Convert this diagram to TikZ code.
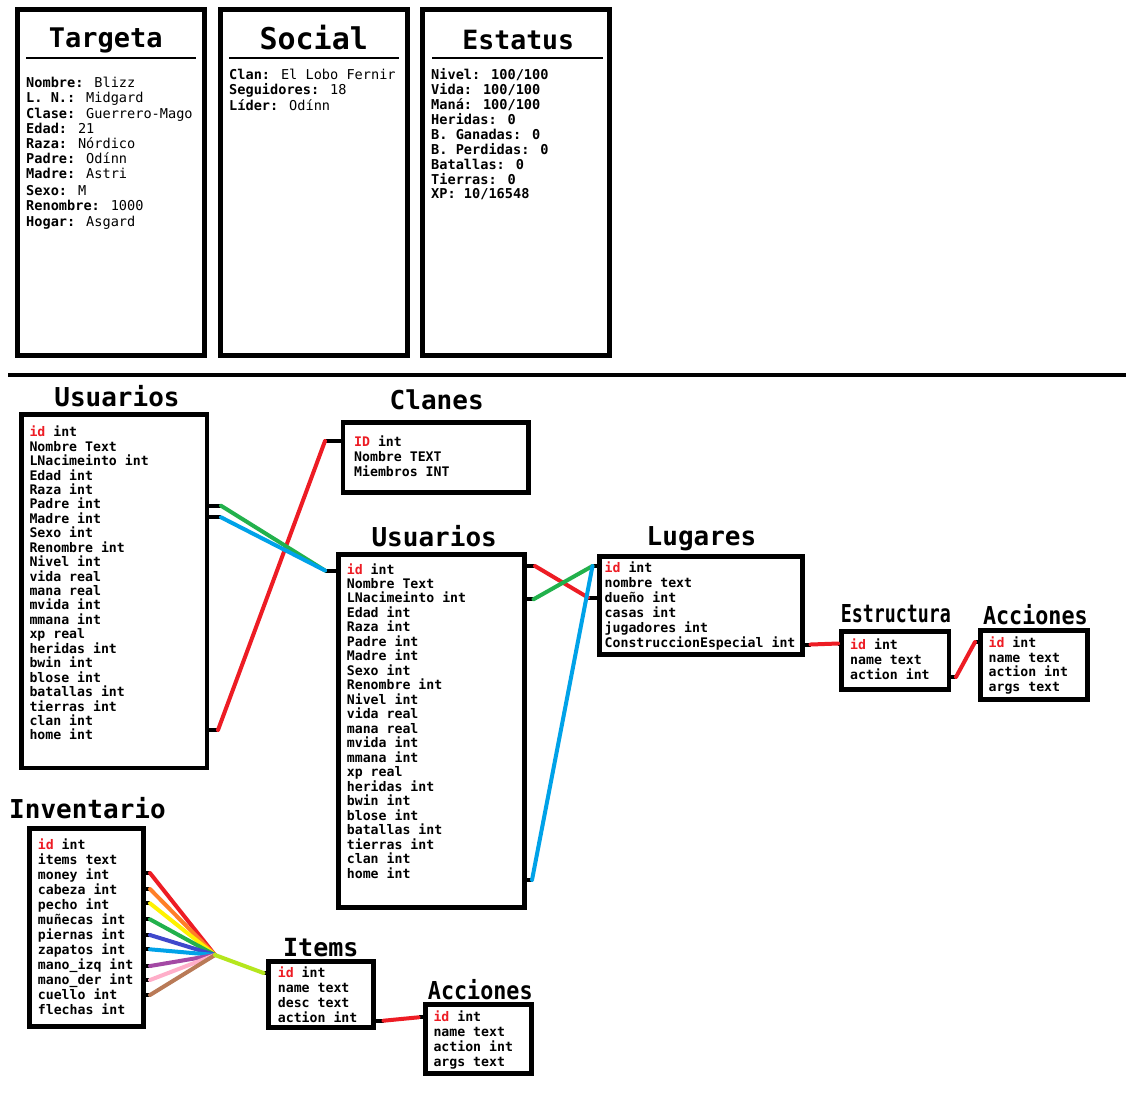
\documentclass[tikz,border=0pt]{standalone}
\usepackage{fontspec}
\newfontfamily\dvm{DejaVu Sans Mono}
\usetikzlibrary{calc}

\definecolor{pred}{HTML}{ED1C24}
\definecolor{porange}{HTML}{FF7F27}
\definecolor{pyellow}{HTML}{FFF200}
\definecolor{pgreen}{HTML}{22B14C}
\definecolor{pindigo}{HTML}{3F48CC}
\definecolor{pcyan}{HTML}{00A2E8}
\definecolor{ppurple}{HTML}{A349A4}
\definecolor{ppink}{HTML}{FFAEC9}
\definecolor{pbrown}{HTML}{B97A57}
\definecolor{plime}{HTML}{B5E61D}

\newcommand\fldfont{\dvm\bfseries\fontsize{13.2}{15}\selectfont}
\newcommand\cardfont{\dvm\fontsize{13.6}{15}\selectfont}
\newcommand\ttlfont{\dvm\bfseries\fontsize{26}{30}\selectfont}
\newcommand\key[1]{\textcolor{pred}{#1}}
\newcommand\lbl[1]{\textbf{#1}}

% a table box given by its name and the corners of its border line
\newcommand\tablebox[5]{%
  \node[box, minimum width={#4-#2}, minimum height={#5-#3}] (#1) at (#2,#3) {};}

\begin{document}
\begin{tikzpicture}[x=1pt,y=-1pt,
  box/.style={draw=black, line width=4.8pt, fill=white, inner sep=0pt, outer sep=0pt, anchor=north west},
  fld/.style={anchor=base west, inner sep=0pt, font=\fldfont},
  cardtxt/.style={anchor=base west, inner sep=0pt, font=\cardfont},
  ttl/.style={anchor=base, inner sep=0pt, font=\ttlfont},
  wire/.style={line width=4pt, line cap=round},
  stub/.style={line width=4pt, draw=black},
  rule/.style={line width=2pt, draw=black}]

\useasboundingbox (0,0) rectangle (1126,1104);
\fill[white] (0,0) rectangle (1126,1104);

% ---------- character sheet cards ----------
\node[box, line width=5pt, minimum width=187, minimum height=346] (cardT) at (17.5,9.5) {};
\node[box, line width=5pt, minimum width=187, minimum height=346] (cardS) at (220.5,9.5) {};
\node[box, line width=5pt, minimum width=187, minimum height=346] (cardE) at (422.5,9.5) {};

\node[ttl, font=\dvm\bfseries\fontsize{27}{30}\selectfont] (tT) at (105.8,47.7) {Targeta};
\node[ttl, font=\dvm\bfseries\fontsize{30}{32}\selectfont] (tS) at (313.7,49.8) {Social};
\node[ttl, font=\dvm\bfseries\fontsize{26.5}{30}\selectfont] (tE) at (518.3,49.8) {Estatus};
\coordinate (uTa) at (26,58.2);  \coordinate (uTb) at (196,58.2);
\coordinate (uSa) at (229,58.2); \coordinate (uSb) at (399,58.2);
\coordinate (uEa) at (432,58.2); \coordinate (uEb) at (603,58.2);
\draw[rule] (uTa) -- (uTb);
\draw[rule] (uSa) -- (uSb);
\draw[rule] (uEa) -- (uEb);

\node[cardtxt] (cT1) at (26,87.3) {\lbl{Nombre:} Blizz};
\node[cardtxt] (cT2) at (26,102.9) {\lbl{L. N.:} Midgard};
\node[cardtxt] (cT3) at (26,118) {\lbl{Clase:} Guerrero-Mago};
\node[cardtxt] (cT4) at (26,133.3) {\lbl{Edad:} 21};
\node[cardtxt] (cT5) at (26,148.3) {\lbl{Raza:} Nórdico};
\node[cardtxt] (cT6) at (26,163.3) {\lbl{Padre:} Odínn};
\node[cardtxt] (cT7) at (26,178.3) {\lbl{Madre:} Astri};
\node[cardtxt] (cT8) at (26,195.7) {\lbl{Sexo:} M};
\node[cardtxt] (cT9) at (26,210) {\lbl{Renombre:} 1000};
\node[cardtxt] (cT10) at (26,226.7) {\lbl{Hogar:} Asgard};

\node[cardtxt] (cS1) at (229,79) {\lbl{Clan:} El Lobo Fernir};
\node[cardtxt] (cS2) at (229,94.3) {\lbl{Seguidores:} 18};
\node[cardtxt] (cS3) at (229,110) {\lbl{Líder:} Odínn};

\node[cardtxt] (cE1) at (431,79) {\lbl{Nivel: 100/100}};
\node[cardtxt] (cE2) at (431,94.3) {\lbl{Vida: 100/100}};
\node[cardtxt] (cE3) at (431,109.3) {\lbl{Maná: 100/100}};
\node[cardtxt] (cE4) at (431,124) {\lbl{Heridas: 0}};
\node[cardtxt] (cE5) at (431,139.3) {\lbl{B. Ganadas: 0}};
\node[cardtxt] (cE6) at (431,154) {\lbl{B. Perdidas: 0}};
\node[cardtxt] (cE7) at (431,169) {\lbl{Batallas: 0}};
\node[cardtxt] (cE8) at (431,184.3) {\lbl{Tierras: 0}};
\node[cardtxt] (cE9) at (431,198.3) {\lbl{XP: 10/16548}};

% ---------- separator ----------
\coordinate (sepL) at (8,375);
\coordinate (sepR) at (1126,375);
\draw[line width=4pt] (sepL) -- (sepR);

% ---------- database tables ----------
\tablebox{usrA}{21.5}{414.5}{207}{768}
\tablebox{clan}{343}{422.7}{528.5}{492.7}
\tablebox{usrB}{338.3}{554.3}{524.5}{907.2}
\tablebox{lug}{599.7}{556.8}{802.5}{654.2}
\tablebox{est}{841.6}{631.8}{949}{689.2}
\tablebox{accR}{980.5}{630.2}{1087.5}{699.2}
\tablebox{inv}{29.2}{828.5}{143.2}{1026.7}
\tablebox{items}{268.5}{961.8}{373.5}{1027.5}
\tablebox{accB}{425.8}{1004.2}{531.8}{1073.2}

% titles
\node[ttl] (tUA) at (117,406.7) {Usuarios};
\node[ttl] (tCl) at (436.7,409.8) {Clanes};
\node[ttl] (tUB) at (434.2,546.7) {Usuarios};
\node[ttl] (tLu) at (701.5,545) {Lugares};
\node[ttl] (tEs) at (895.8,622.7) {\scalebox{0.74}[1]{\fontsize{24.7}{28}\selectfont Estructura}};
\node[ttl] (tAR) at (1035.4,624.3) {\scalebox{0.88}[1]{\fontsize{24.7}{28}\selectfont Acciones}};
\node[ttl] (tIn) at (87.5,818.7) {Inventario};
\node[ttl] (tIt) at (320.8,956.7) {\fontsize{25}{28}\selectfont Items};
\node[ttl] (tAB) at (480.3,999.3) {\scalebox{0.88}[1]{\fontsize{24.7}{28}\selectfont Acciones}};

% fields
\foreach \t [count=\i from 0] in {\key{id} int,Nombre Text,LNacimeinto int,Edad int,Raza int,Padre int,Madre int,Sexo int,Renombre int,Nivel int,vida real,mana real,mvida int,mmana int,xp real,heridas int,bwin int,blose int,batallas int,tierras int,clan int,home int}
  \node[fld] (fA\i) at (29.3,{436.7+14.44*\i}) {\t};
\foreach \t [count=\i from 0] in {\key{ID} int,Nombre TEXT,Miembros INT}
  \node[fld] (fC\i) at (354,{446+15.25*\i}) {\t};
\foreach \t [count=\i from 0] in {\key{id} int,Nombre Text,LNacimeinto int,Edad int,Raza int,Padre int,Madre int,Sexo int,Renombre int,Nivel int,vida real,mana real,mvida int,mmana int,xp real,heridas int,bwin int,blose int,batallas int,tierras int,clan int,home int}
  \node[fld] (fB\i) at (346.7,{574+14.48*\i}) {\t};
\foreach \t [count=\i from 0] in {\key{id} int,nombre text,dueño int,casas int,jugadores int,ConstruccionEspecial int}
  \node[fld] (fL\i) at (604.5,{572.3+15*\i}) {\t};
\foreach \t [count=\i from 0] in {\key{id} int,name text,action int}
  \node[fld] (fE\i) at (850,{649.3+15*\i}) {\t};
\foreach \t [count=\i from 0] in {\key{id} int,name text,action int,args text}
  \node[fld] (fR\i) at (988.4,{647.3+14.8*\i}) {\t};
\foreach \t [count=\i from 0] in {\key{id} int,items text,money int,cabeza int,pecho int,muñecas int,piernas int,zapatos int,mano\_izq int,mano\_der int,cuello int,flechas int}
  \node[fld] (fI\i) at (37.7,{849+15*\i}) {\t};
\foreach \t [count=\i from 0] in {\key{id} int,name text,desc text,action int}
  \node[fld] (fT\i) at (277.7,{977.3+15*\i}) {\t};
\foreach \t [count=\i from 0] in {\key{id} int,name text,action int,args text}
  \node[fld] (fX\i) at (433.3,{1021.3+14.9*\i}) {\t};

% ---------- relations ----------
% Usuarios (left) -> Usuarios (middle), Clanes
\coordinate (aPad) at (207,505.7);  \coordinate (aPadE) at (221,505.7);
\coordinate (aMad) at (207,517.3);  \coordinate (aMadE) at (221,517.3);
\coordinate (aCla) at (207,730);    \coordinate (aClaE) at (218,730);
\coordinate (bId)  at (338.3,570.5); \coordinate (bIdE) at (325,570.5);
\coordinate (cId)  at (343,441);    \coordinate (cIdE) at (325,441);
\draw[stub] (aPad) -- (aPadE);
\draw[stub] (aMad) -- (aMadE);
\draw[stub] (aCla) -- (aClaE);
\draw[stub] (bId) -- (bIdE);
\draw[stub] (cId) -- (cIdE);
\draw[wire, pred] (aClaE) -- (cIdE);
\draw[wire, pgreen] (aPadE) -- (bIdE);
\draw[wire, pcyan] (aMadE) -- (bIdE);

% Usuarios (middle) -> Lugares
\coordinate (bIdR) at (524.5,566);   \coordinate (bIdRE) at (535,566);
\coordinate (bLNa) at (524.5,599.3); \coordinate (bLNaE) at (533.5,599.3);
\coordinate (bHom) at (524.5,880);   \coordinate (bHomE) at (532,880);
\coordinate (lId)  at (599.7,566);   \coordinate (lIdE) at (592.5,566);
\coordinate (lDue) at (599.7,597.5); \coordinate (lDueE) at (588,597.5);
\draw[stub] (bIdR) -- (bIdRE);
\draw[stub] (bLNa) -- (bLNaE);
\draw[stub] (bHom) -- (bHomE);
\draw[stub] (lId) -- (lIdE);
\draw[stub] (lDue) -- (lDueE);
\draw[wire, pred] (bIdRE) -- (lDueE);
\draw[wire, pgreen] (bLNaE) -- (lIdE);
\draw[wire, pcyan] (bHomE) -- (lIdE);

% Lugares -> Estructura -> Acciones
\coordinate (lCon) at (802.5,644.5); \coordinate (lConE) at (810.5,644.5);
\coordinate (eId)  at (841.6,643.5); \coordinate (eIdE) at (838,643.5);
\coordinate (eAct) at (949,677);     \coordinate (eActE) at (956,677);
\coordinate (rId)  at (980.5,642);   \coordinate (rIdE) at (975,642);
\draw[stub] (lCon) -- (lConE);
\draw[stub] (eId) -- (eIdE);
\draw[stub] (eAct) -- (eActE);
\draw[stub] (rId) -- (rIdE);
\draw[wire, pred] (lConE) -- (eIdE);
\draw[wire, pred] (eActE) -- (rIdE);

% Inventario slots -> Items
\coordinate (hub) at (215,955);
\foreach \yy/\c [count=\k] in {873/pred,889/porange,903.3/pyellow,919.3/pgreen,935/pindigo,949.3/pcyan,966/ppurple,980/ppink,995/pbrown}{
  \coordinate (iS\k) at (143.2,\yy);
  \coordinate (iS\k E) at (150,\yy);
  \draw[stub] (iS\k) -- (iS\k E);
  \draw[wire, \c] (iS\k E) -- (hub);
}
\coordinate (tId)  at (268.5,973);   \coordinate (tIdE) at (263.5,973);
\draw[stub] (tId) -- (tIdE);
\draw[wire, plime] (hub) -- (tIdE);

% Items -> Acciones
\coordinate (tAct) at (373.5,1020.7); \coordinate (tActE) at (383.5,1020.7);
\coordinate (xId)  at (425.8,1017.3); \coordinate (xIdE) at (418.5,1017.3);
\draw[stub] (tAct) -- (tActE);
\draw[stub] (xId) -- (xIdE);
\draw[wire, pred] (tActE) -- (xIdE);

\end{tikzpicture}
\end{document}
